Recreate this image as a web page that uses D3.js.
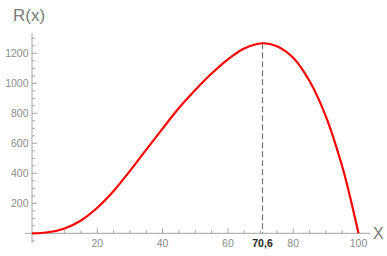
<!DOCTYPE html>
<html>
<head>
<meta charset="utf-8">
<script src="https://cdn.jsdelivr.net/npm/d3@7"></script>
<style>
  body { margin: 0; background: #fff; }
  text { font-family: "Liberation Sans", Arial, sans-serif; }
</style>
</head>
<body>
<svg width="387" height="256"></svg>
<script>
// values
var xs = [0, 5, 10, 15, 20, 25, 30, 35, 40, 45, 50, 55, 60, 65, 70.6, 75, 80, 85, 90, 95, 97.5, 100];
var rs = [0, 7, 32, 85, 170, 282, 416, 558, 698, 835, 955, 1065, 1160, 1232, 1267, 1247, 1170, 1015, 780, 447, 236, 0];
var xTicks = [20, 40, 60, 80, 100];
var yTicks = [200, 400, 600, 800, 1000, 1200];
var peakX = 70.6;
var peakLabel = "70,6";

var svg = d3.select("svg");

var x = d3.scaleLinear().domain([0, 100]).range([32, 358.5]);
var y = d3.scaleLinear().domain([0, 1200]).range([233.3, 53.3]);

var axisColor = "#a6a6a6";
var labelColor = "#8c8c8c";

// axis lines
svg.append("line")
  .attr("x1", x(-2.2)).attr("x2", x(103.5))
  .attr("y1", y(0)).attr("y2", y(0))
  .attr("stroke", axisColor).attr("stroke-width", 1);
svg.append("line")
  .attr("x1", x(0)).attr("x2", x(0))
  .attr("y1", y(1335)).attr("y2", y(-65))
  .attr("stroke", axisColor).attr("stroke-width", 1);

// x ticks (major every 20, minor every 5), pointing up
var xMinor = d3.range(5, 101, 5);
svg.append("g").selectAll("line")
  .data(xMinor)
  .enter().append("line")
  .attr("x1", function(d) { return x(d); })
  .attr("x2", function(d) { return x(d); })
  .attr("y1", y(0))
  .attr("y2", function(d) { return y(0) - (d % 20 == 0 ? 5 : 3); })
  .attr("stroke", axisColor);

svg.append("g").selectAll("text")
  .data(xTicks)
  .enter().append("text")
  .attr("x", function(d) { return x(d); })
  .attr("y", 246.5)
  .attr("text-anchor", "middle")
  .attr("font-size", 10.5)
  .attr("fill", labelColor)
  .text(function(d) { return d; });

// y ticks (major every 200, minor every 50), pointing right
var yMinor = d3.range(-50, 1301, 50).filter(function(d) { return d != 0; });
svg.append("g").selectAll("line")
  .data(yMinor)
  .enter().append("line")
  .attr("x1", x(0))
  .attr("x2", function(d) { return x(0) + (d % 200 == 0 ? 5 : 3); })
  .attr("y1", function(d) { return y(d); })
  .attr("y2", function(d) { return y(d); })
  .attr("stroke", axisColor);

svg.append("g").selectAll("text")
  .data(yTicks)
  .enter().append("text")
  .attr("x", 28.5)
  .attr("y", function(d) { return y(d) + 3.7; })
  .attr("text-anchor", "end")
  .attr("font-size", 10.5)
  .attr("fill", labelColor)
  .text(function(d) { return d; });

// dashed line at the maximum
svg.append("line")
  .attr("x1", x(peakX)).attr("x2", x(peakX))
  .attr("y1", y(d3.max(rs))).attr("y2", y(0))
  .attr("stroke", "#777")
  .attr("stroke-width", 1.2)
  .attr("stroke-dasharray", "6,3");

svg.append("text")
  .attr("x", x(peakX))
  .attr("y", 246.5)
  .attr("text-anchor", "middle")
  .attr("font-size", 10.5)
  .attr("font-weight", "bold")
  .attr("fill", "#222")
  .text(peakLabel);

// curve
var line = d3.line()
  .x(function(d, i) { return x(xs[i]); })
  .y(function(d) { return y(d); })
  .curve(d3.curveCatmullRom.alpha(0.5));

svg.append("path")
  .datum(rs)
  .attr("d", line)
  .attr("fill", "none")
  .attr("stroke", "#ff0000")
  .attr("stroke-width", 2.2);

// axis titles
svg.append("text")
  .attr("x", 13)
  .attr("y", 21)
  .attr("font-size", 17)
  .attr("fill", "#7a7a7a")
  .text("R(x)");

svg.append("text")
  .attr("x", 373)
  .attr("y", 239)
  .attr("font-size", 16)
  .attr("fill", "#7a7a7a")
  .text("X");
</script>
</body>
</html>
